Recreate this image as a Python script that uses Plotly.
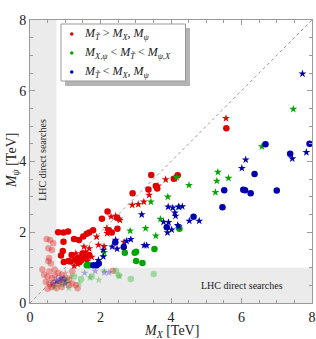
import plotly.graph_objects as go

# ---------------- data (TeV) ----------------
red_circle_x = [0.80,0.95,1.08,0.95,0.93,0.88,0.96,1.09,1.18,1.25,1.39,1.51,1.61,1.68,1.79,2.04,2.20,2.47,2.48,2.24,2.32,2.91,3.36,3.57,3.61,3.44,4.08,4.19,5.57,1.28,1.36,1.45,1.52,1.60,1.68,1.49,1.15,1.40,
                0.57,0.66,0.52,0.62,0.52,0.59,0.47,0.40,0.50,0.62,0.70,0.80,0.90,1.00,0.45,0.55,0.65,0.80,0.95,1.10,1.20,1.30,0.50,0.60,0.75,0.90,1.10,1.35,2.35,1.20,0.35,0.70,0.55,0.54]
red_circle_y = [2.00,1.99,2.02,1.73,1.47,1.34,1.16,1.19,1.36,1.81,1.78,1.88,1.96,1.99,2.06,2.38,2.59,2.41,2.10,2.06,1.99,3.10,3.21,3.31,3.24,3.62,3.51,3.61,4.94,1.22,1.28,1.20,1.34,1.25,1.36,1.40,1.17,1.15,
                1.78,1.69,1.55,1.50,1.19,1.12,1.81,0.80,0.75,0.70,0.78,0.85,0.78,0.70,0.60,0.55,0.50,0.55,0.58,0.65,0.55,0.50,0.40,0.45,0.42,0.45,0.50,0.42,0.91,0.90,0.95,0.95,0.90,1.27]
red_star_x = [1.53,1.68,1.89,1.94,2.18,2.19,2.30,2.43,2.53,2.55,2.67,2.90,3.07,3.23,3.38,3.63,3.85,4.10,5.56,1.30,1.42,1.58,1.75,1.62,1.35,1.25,2.10,
              0.70,1.00,1.15,0.85]
red_star_y = [1.59,1.54,1.87,1.64,2.11,1.97,2.44,2.46,2.38,2.34,1.72,2.77,2.79,2.86,3.05,3.31,3.49,3.52,5.22,1.40,1.32,1.45,1.30,1.18,1.10,1.05,1.60,
              0.60,0.85,0.75,0.65]
green_circle_x = [1.61,1.68,2.69,2.97,3.01,3.01,3.19,3.53,4.24,
                  1.05,1.25,1.45,1.75,2.52,2.86,3.51,2.44]
green_circle_y = [1.07,1.07,1.42,1.42,1.45,1.19,1.13,1.53,2.10,
                  0.62,0.75,0.68,0.75,0.78,0.68,0.82,0.91]
green_star_x = [2.10,2.84,3.28,3.43,3.70,3.91,3.57,4.16,4.24,4.51,5.26,5.30,5.33,5.63,6.58,7.47,
                0.90,1.10,1.40,1.70,1.95,2.53,2.10,0.70]
green_star_y = [1.43,2.04,2.11,2.86,2.37,3.00,1.90,3.55,2.71,3.33,3.13,3.45,3.70,3.53,4.42,5.48,
                0.52,0.42,0.55,0.72,0.65,0.76,0.92,0.45]
blue_circle_x = [1.80,1.89,1.95,2.42,2.66,3.88,4.64,5.51,5.46,6.05,6.10,6.26,7.00,6.37,6.68,7.38,7.93,
                 0.80,0.95]
blue_circle_y = [1.07,1.07,1.12,1.72,1.58,2.14,2.44,3.19,2.71,3.20,3.19,3.10,3.18,3.65,4.49,4.22,4.50,
                 0.62,0.68]
blue_star_x = [1.94,2.08,2.08,2.33,2.47,2.43,2.74,2.86,3.17,3.24,3.31,3.79,3.93,3.90,4.02,3.92,4.05,4.21,4.32,4.11,4.13,4.19,4.22,4.52,4.80,6.01,6.12,7.44,7.84,7.73,
               0.75,0.88,1.00,0.65,1.55,1.85,2.11,2.24]
blue_star_y = [1.21,1.31,1.50,1.59,1.53,1.78,1.75,1.80,2.50,1.63,1.63,2.29,2.28,1.99,2.07,2.72,2.69,2.72,2.73,2.55,2.46,2.20,2.16,2.32,2.32,3.81,4.05,4.08,4.26,6.48,
               0.62,0.70,0.55,0.55,0.85,0.90,0.86,0.86]

legend_labels = [
    "<i>M</i><sub><i>T\u0303</i></sub> > <i>M</i><sub><i>X</i></sub>, <i>M</i><sub><i>\u03c8</i></sub>",
    "<i>M</i><sub><i>X</i>,<i>\u03c8</i></sub> < <i>M</i><sub><i>T\u0303</i></sub> < <i>M</i><sub><i>\u03c8</i>,<i>X</i></sub>",
    "<i>M</i><sub><i>T\u0303</i></sub> < <i>M</i><sub><i>X</i></sub>, <i>M</i><sub><i>\u03c8</i></sub>",
]
x_ticks = [0, 2, 4, 6, 8]
lhc_x_limit = 0.75
lhc_y_limit = 1.0

# ---------------- styling ----------------
colors = {"red": "rgb(225,0,0)", "green": "rgb(0,165,0)", "blue": "rgb(0,0,175)"}
faded = {"red": "rgba(225,0,0,0.33)", "green": "rgba(0,165,0,0.3)", "blue": "rgba(0,0,175,0.3)"}
FONT = "Liberation Serif, Times New Roman, serif"

# plot area in pixels (for paper-coordinate helpers)
L, R, T, B = 30, 312, 20, 303
def px(xp): return (xp - L) / (R - L)
def py(yp): return (B - yp) / (B - T)

def split(xs, ys):
    keep, fade = ([], []), ([], [])
    for x, y in zip(xs, ys):
        tgt = fade if (x < lhc_x_limit or y < lhc_y_limit) else keep
        tgt[0].append(x); tgt[1].append(y)
    return keep, fade

fig = go.Figure()
series = [
    ("red", red_circle_x, red_circle_y, red_star_x, red_star_y),
    ("green", green_circle_x, green_circle_y, green_star_x, green_star_y),
    ("blue", blue_circle_x, blue_circle_y, blue_star_x, blue_star_y),
]
CS, SS = 6.5, 6
for name, cx, cy, sx, sy in series:
    (kc, fc) = split(cx, cy)
    (ks, fs) = split(sx, sy)
    fig.add_trace(go.Scatter(x=fc[0], y=fc[1], mode="markers", showlegend=False,
                             marker=dict(symbol="circle", size=CS, color=faded[name], line=dict(width=0))))
    fig.add_trace(go.Scatter(x=fs[0], y=fs[1], mode="markers", showlegend=False,
                             marker=dict(symbol="star", size=SS, color=faded[name], line=dict(width=0))))
for name, cx, cy, sx, sy in series:
    (kc, fc) = split(cx, cy)
    (ks, fs) = split(sx, sy)
    fig.add_trace(go.Scatter(x=ks[0], y=ks[1], mode="markers", showlegend=False,
                             marker=dict(symbol="star", size=SS, color=colors[name], line=dict(width=0))))
    fig.add_trace(go.Scatter(x=kc[0], y=kc[1], mode="markers", showlegend=False,
                             marker=dict(symbol="circle", size=CS, color=colors[name], line=dict(width=0))))

shapes = [
    dict(type="rect", xref="x", yref="y", x0=0, x1=lhc_x_limit, y0=0, y1=8,
         fillcolor="#ebebeb", line=dict(width=0), layer="below"),
    dict(type="rect", xref="x", yref="y", x0=0, x1=8, y0=0, y1=lhc_y_limit,
         fillcolor="#ebebeb", line=dict(width=0), layer="below"),
    dict(type="line", xref="x", yref="y", x0=0, y0=0, x1=8, y1=8,
         line=dict(color="#999999", width=1, dash="dot"), layer="below"),
    # legend shadow and box
    dict(type="rect", xref="paper", yref="paper", x0=px(65), x1=px(190), y0=py(86), y1=py(28),
         fillcolor="#b4b4b4", line=dict(width=0), layer="above"),
    dict(type="rect", xref="paper", yref="paper", x0=px(61), x1=px(185.5), y0=py(81), y1=py(24),
         fillcolor="white", line=dict(width=1, color="#999999"), layer="above"),
]
annotations = []
for i, (name, lab) in enumerate(zip(["red", "green", "blue"], legend_labels)):
    yc = 34 + 19 * i
    shapes.append(dict(type="circle", xref="paper", yref="paper",
                       x0=px(70), x1=px(73.5), y0=py(yc + 1.75), y1=py(yc - 1.75),
                       fillcolor=colors[name], line=dict(width=0), layer="above"))
    annotations.append(dict(x=px(82), y=py(yc), xref="paper", yref="paper", xanchor="left",
                            yanchor="middle", text=lab, showarrow=False,
                            font=dict(family=FONT, size=12, color="#222")))

annotations += [
    dict(x=0.37, y=4.05, xref="x", yref="y", text="LHC direct searches", showarrow=False,
         textangle=-90, font=dict(family=FONT, size=10, color="#222")),
    dict(x=6.0, y=0.49, xref="x", yref="y", text="LHC direct searches", showarrow=False,
         font=dict(family=FONT, size=10, color="#222")),
    dict(x=0.50, y=py(331), xref="paper", yref="paper", xanchor="center", yanchor="middle",
         text="<i>M</i><sub><i>X</i></sub> [TeV]", showarrow=False,
         font=dict(family=FONT, size=14, color="#222")),
    dict(x=px(12), y=0.505, xref="paper", yref="paper", xanchor="center", yanchor="middle",
         text="<i>M</i><sub><i>\u03c8</i></sub> [TeV]", showarrow=False, textangle=-90,
         font=dict(family=FONT, size=14, color="#222")),
]

axis_common = dict(
    range=[0, 8], tickvals=x_ticks, ticks="inside", ticklen=5, tickcolor="#9a9a9a",
    showline=True, linecolor="#9a9a9a", linewidth=1, mirror="ticks", showgrid=False, zeroline=False,
    minor=dict(dtick=0.5, ticks="inside", ticklen=3, tickcolor="#9a9a9a", showgrid=False),
    tickfont=dict(family=FONT, size=14, color="#222"), automargin=False,
)

fig.update_layout(
    width=316, height=339,
    margin=dict(l=L, r=316 - R, t=T, b=339 - B, autoexpand=False),
    paper_bgcolor="white", plot_bgcolor="white",
    shapes=shapes, annotations=annotations,
    xaxis=dict(axis_common, ticklabelstandoff=1),
    yaxis=dict(axis_common),
    showlegend=False,
)

fig.write_html("out.html", config={"displayModeBar": False},
               post_script="document.body.style.margin='0';document.body.style.overflow='hidden';")
